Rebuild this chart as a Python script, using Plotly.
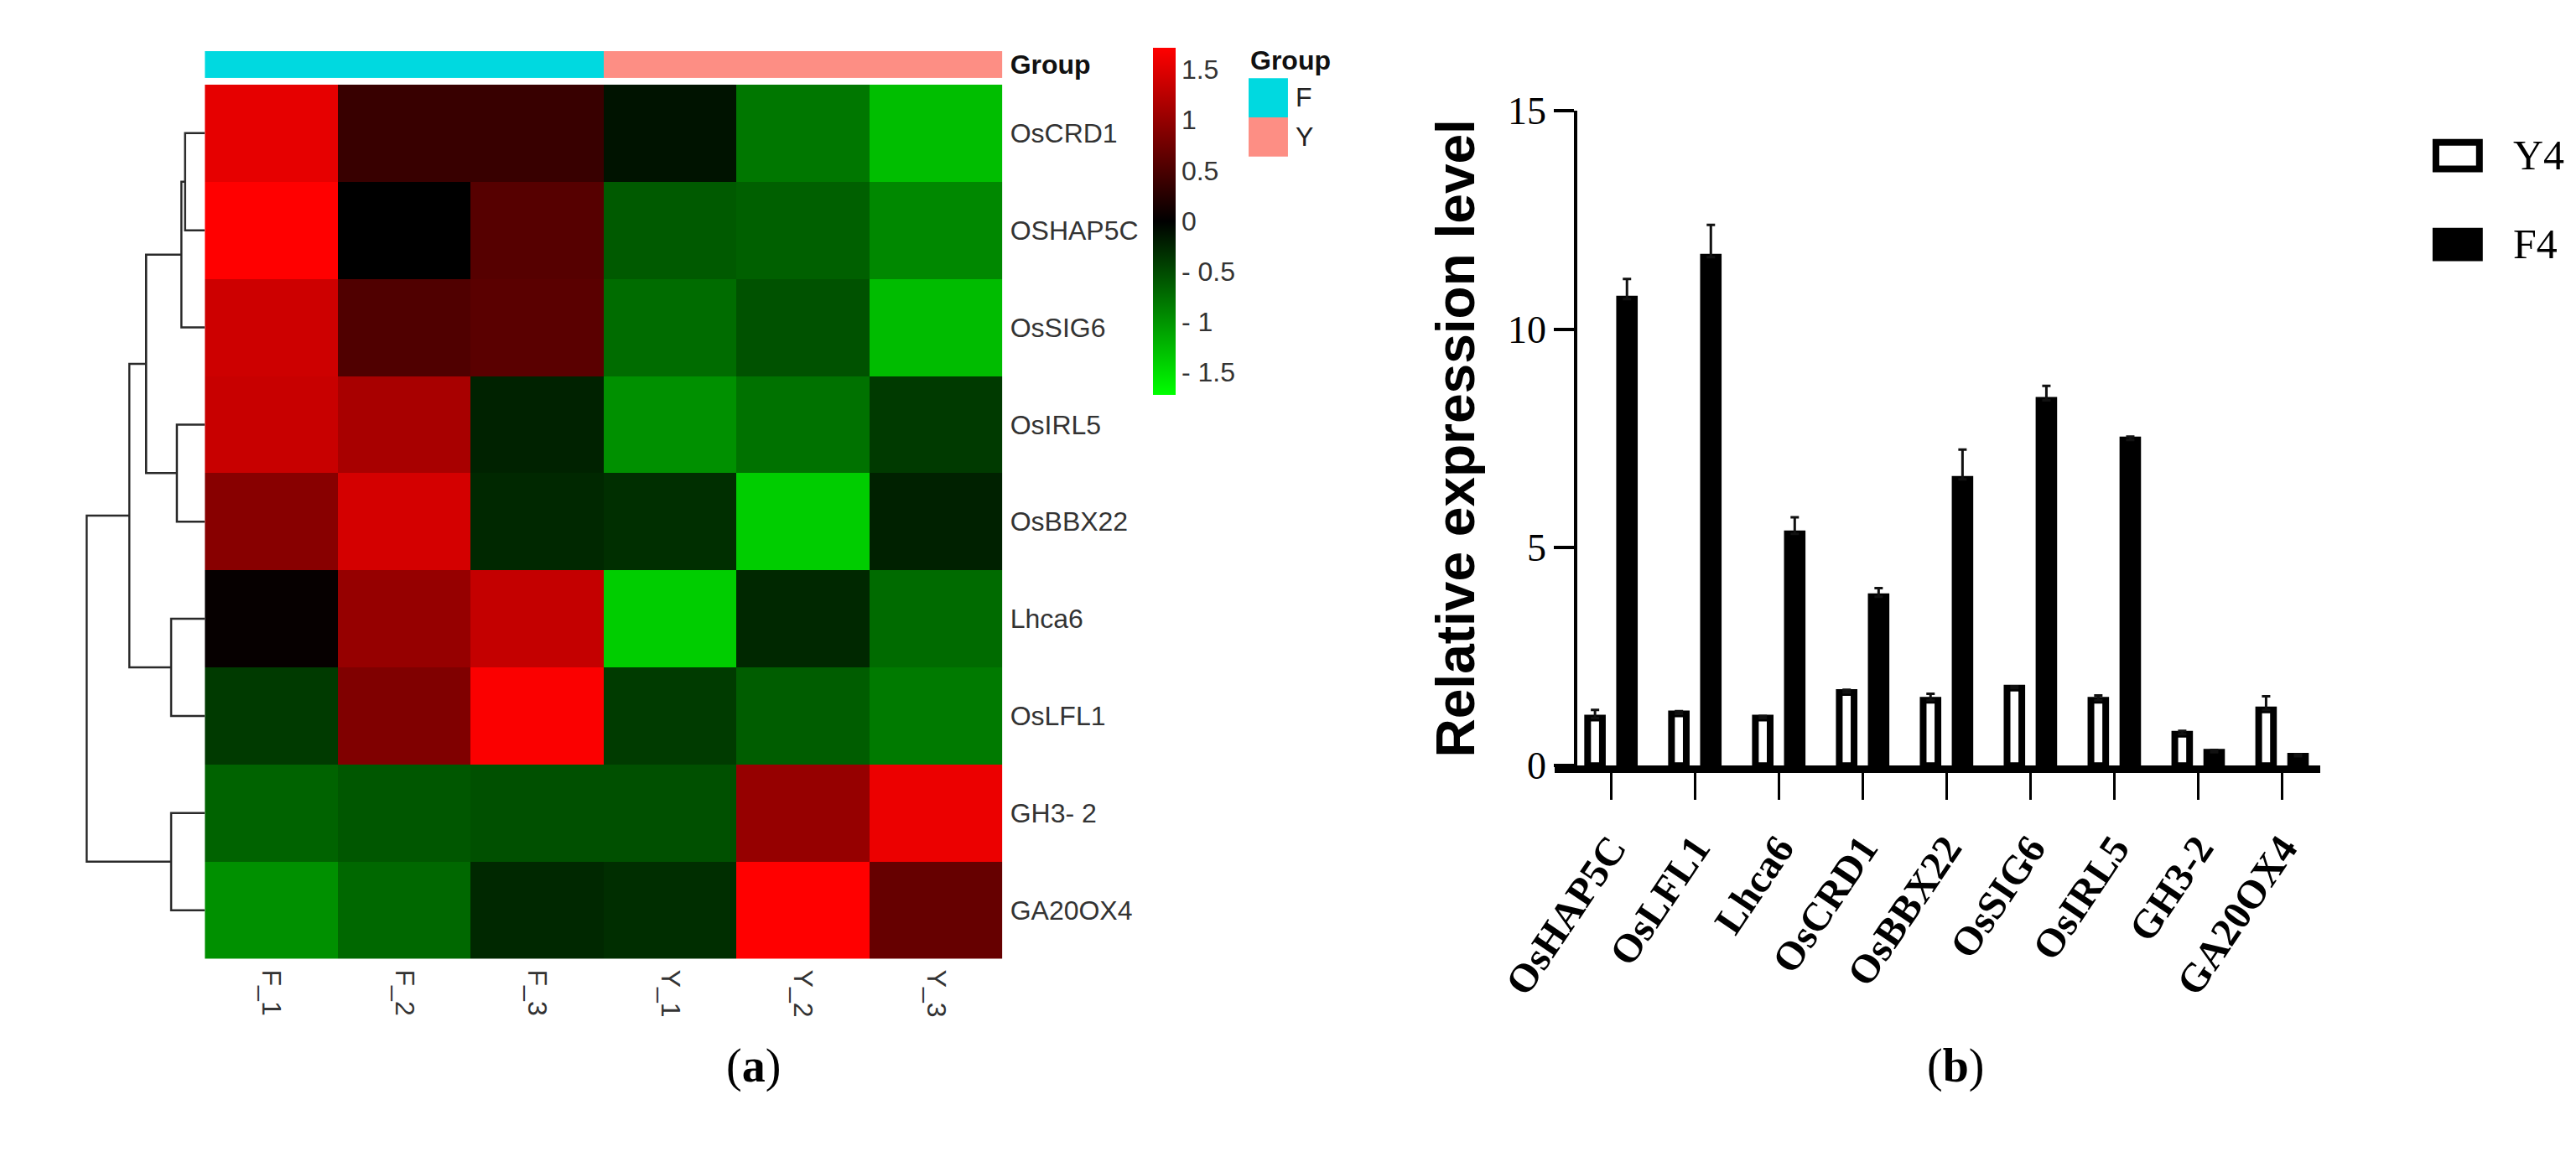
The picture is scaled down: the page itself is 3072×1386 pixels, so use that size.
import plotly.graph_objects as go

W, H = 3072, 1386

# ---------------- (a) heatmap data ----------------
samples = ["F_1", "F_2", "F_3", "Y_1", "Y_2", "Y_3"]
sample_group = ["F", "F", "F", "Y", "Y", "Y"]
genes_heat = ["OsCRD1", "OSHAP5C", "OsSIG6", "OsIRL5", "OsBBX22",
              "Lhca6", "OsLFL1", "GH3- 2", "GA20OX4"]
zscore = [
    [1.55, 0.38, 0.38, -0.13, -0.80, -1.28],
    [1.72, 0.00, 0.58, -0.61, -0.65, -0.92],
    [1.38, 0.54, 0.61, -0.73, -0.55, -1.27],
    [1.35, 1.13, -0.23, -0.97, -0.77, -0.39],
    [0.92, 1.43, -0.27, -0.32, -1.38, -0.22],
    [0.04, 1.01, 1.32, -1.38, -0.27, -0.72],
    [-0.39, 0.86, 1.69, -0.40, -0.63, -0.82],
    [-0.67, -0.59, -0.54, -0.54, 1.01, 1.59],
    [-0.97, -0.70, -0.27, -0.31, 1.72, 0.69],
]
# row clustering: (left id, right id, height); ids >= 9 are earlier merges
row_linkage = [
    (0, 1, 2.4), (9, 2, 2.85), (3, 4, 3.4), (5, 6, 4.1), (7, 8, 4.1),
    (10, 11, 7.15), (14, 12, 9.2), (15, 13, 14.4),
]
cbar_ticks = [-1.5, -1, -0.5, 0, 0.5, 1, 1.5]
cbar_text = ["- 1.5", "- 1", "- 0.5", "0", "0.5", "1", "1.5"]
group_colors = {"F": "#00d9e0", "Y": "#fd8e84"}

# ---------------- (b) bar data ----------------
genes_bar = ["OsHAP5C", "OsLFL1", "Lhca6", "OsCRD1", "OsBBX22",
             "OsSIG6", "OsIRL5", "GH3-2", "GA20OX4"]
y4 = [1.09, 1.19, 1.09, 1.68, 1.50, 1.78, 1.50, 0.72, 1.28]
y4_err = [0.19, 0.06, 0.05, 0.06, 0.15, 0.04, 0.11, 0.08, 0.31]
f4 = [10.69, 11.65, 5.31, 3.87, 6.56, 8.37, 7.46, 0.31, 0.22]
f4_err = [0.46, 0.74, 0.38, 0.20, 0.68, 0.33, 0.08, 0.05, 0.04]


def px(x):
    return x / W


def py(y):
    return 1 - y / H


SANS = "Liberation Sans, Arial, sans-serif"
SERIF = "Liberation Serif, Times New Roman, serif"

fig = go.Figure()

# dendrogram built from the linkage table
pos = {i: (0.0, float(i)) for i in range(len(genes_heat))}
dx, dy = [], []
for k, (a, b, h) in enumerate(row_linkage):
    ha, ya = pos[a]
    hb, yb = pos[b]
    dx += [ha, h, h, hb, None]
    dy += [ya, ya, yb, yb, None]
    pos[len(genes_heat) + k] = (h, (ya + yb) / 2)

fig.add_trace(go.Scatter(x=dx, y=dy, mode="lines", xaxis="x3", yaxis="y",
                         line=dict(color="#2a2a2a", width=2.5),
                         showlegend=False, hoverinfo="skip"))

fig.add_trace(go.Heatmap(
    z=zscore, x=list(range(len(samples))), y=list(range(len(genes_heat))),
    colorscale=[[0, "#00ff00"], [0.5, "#000000"], [1, "#ff0000"]],
    zmin=-1.72, zmax=1.72, xaxis="x", yaxis="y",
    colorbar=dict(x=px(1328), xanchor="left", y=py(24.5), yanchor="top",
                  len=429.5 / H, lenmode="fraction", thickness=27,
                  thicknessmode="pixels", xpad=0, ypad=0, outlinewidth=0,
                  tickvals=cbar_ticks, ticktext=cbar_text, ticks="",
                  tickfont=dict(family=SANS, size=32, color="#333")),
))

group_z = [[0 if g == "F" else 1 for g in sample_group]]
fig.add_trace(go.Heatmap(
    z=group_z, x=list(range(len(samples))), y=[0],
    colorscale=[[0, group_colors["F"]], [0.5, group_colors["F"]],
                [0.5, group_colors["Y"]], [1, group_colors["Y"]]],
    zmin=0, zmax=1, showscale=False, xaxis="x", yaxis="y2", hoverinfo="skip"))

# bars
fig.add_trace(go.Bar(
    x=list(range(len(genes_bar))), y=y4, name="Y4", xaxis="x4", yaxis="y4",
    marker=dict(color="white", line=dict(color="black", width=8)),
    error_y=dict(type="data", symmetric=False, array=y4_err,
                 arrayminus=[0] * len(y4), color="#111", thickness=3, width=5),
    showlegend=False))
fig.add_trace(go.Bar(
    x=list(range(len(genes_bar))), y=f4, name="F4", xaxis="x4", yaxis="y4",
    marker=dict(color="black", line=dict(color="black", width=8)),
    error_y=dict(type="data", symmetric=False, array=f4_err,
                 arrayminus=[0] * len(f4), color="#111", thickness=3, width=5),
    showlegend=False))

shapes = []
annotations = []

# group legend of the heatmap
annotations.append(dict(x=px(1445), y=py(40), xref="paper", yref="paper",
                        text="<b>Group</b>", showarrow=False, xanchor="left",
                        yanchor="middle", font=dict(family=SANS, size=32, color="#111")))
for i, (g, c) in enumerate(group_colors.items()):
    top = 62.5 + i * 48.5
    shapes.append(dict(type="rect", xref="paper", yref="paper",
                       x0=px(1445), x1=px(1493), y0=py(top), y1=py(top + 48.5),
                       fillcolor=c, line=dict(width=0)))
    annotations.append(dict(x=px(1500), y=py(top + 24), xref="paper", yref="paper",
                            text=g, showarrow=False, xanchor="left", yanchor="middle",
                            font=dict(family=SANS, size=32, color="#222")))

# legend of the bar chart
for i, (name, fill) in enumerate([("Y4", "white"), ("F4", "black")]):
    top = 142 + i * 110
    shapes.append(dict(type="rect", xref="paper", yref="paper",
                       x0=px(2893), x1=px(2946), y0=py(top), y1=py(top + 33),
                       fillcolor=fill, line=dict(color="black", width=8)))
    annotations.append(dict(x=px(2985), y=py(top + 16), xref="paper", yref="paper",
                            text=name, showarrow=False, xanchor="left", yanchor="middle",
                            font=dict(family=SERIF, size=50, color="black")))

# panel labels
for lab, xc in [("a", 806), ("b", 2344)]:
    annotations.append(dict(x=px(xc), y=py(1321), xref="paper", yref="paper",
                            text="(<b>%s</b>)" % lab, showarrow=False,
                            font=dict(family=SERIF, size=56, color="black")))

hm_top, hm_bot = 70.5, 1153
fig.update_layout(
    width=W, height=H, margin=dict(l=0, r=0, t=0, b=0),
    paper_bgcolor="white", plot_bgcolor="white",
    barmode="group", bargap=0.238, bargroupgap=0.538,
    shapes=shapes, annotations=annotations,
    xaxis=dict(domain=[px(172), px(1145)], range=[-0.5, 5.5], anchor="y",
               tickvals=list(range(len(samples))), ticktext=samples,
               tickangle=90, ticks="", showgrid=False, zeroline=False,
               showline=False, ticklabelstandoff=12,
               tickfont=dict(family=SANS, size=32, color="#333")),
    yaxis=dict(domain=[py(hm_bot), py(hm_top)], range=[8.5, -0.5], anchor="x",
               side="right", tickvals=list(range(len(genes_heat))),
               ticktext=genes_heat, ticks="", showgrid=False, zeroline=False,
               showline=False, ticklabelstandoff=8,
               tickfont=dict(family=SANS, size=32, color="#333")),
    yaxis2=dict(domain=[py(62.5), py(29)], range=[-0.5, 0.5], anchor="x",
                side="right", tickvals=[0], ticktext=["<b>Group</b>"], ticks="",
                showgrid=False, zeroline=False, ticklabelstandoff=8,
                tickfont=dict(family=SANS, size=32, color="#111")),
    xaxis3=dict(domain=[0, px(172)], range=[17.2, 0], anchor="y",
                visible=False, showgrid=False, zeroline=False),
    xaxis4=dict(domain=[px(1818), px(2752)], range=[-0.674, 8.456], anchor="y4",
                tickvals=list(range(len(genes_bar))),
                ticktext=["<b>%s</b>" % g for g in genes_bar],
                tickangle=-56, ticks="outside", ticklen=32, tickwidth=3,
                tickcolor="black", showline=True, linewidth=9, linecolor="black",
                showgrid=False, zeroline=False, ticklabelstandoff=10,
                tickfont=dict(family=SERIF, size=48, color="black")),
    yaxis4=dict(domain=[py(914), py(103)], range=[0, 15], anchor="free",
                position=px(1844), dtick=5, ticks="outside", ticklen=24,
                tickwidth=4, tickcolor="black", showline=True, linewidth=4,
                linecolor="black", showgrid=False, zeroline=False,
                tickfont=dict(family=SERIF, size=46, color="black"),
                title=dict(text="<b>Relative expression level</b>", standoff=18,
                           font=dict(family=SANS, size=64, color="black"))),
)

fig.write_html("out.html")
